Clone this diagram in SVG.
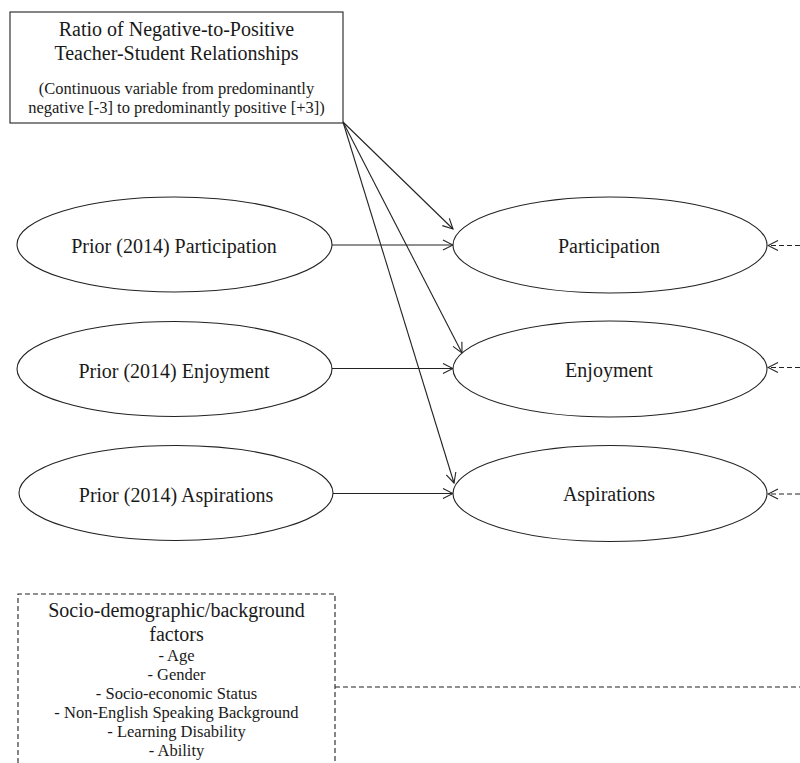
<svg xmlns="http://www.w3.org/2000/svg" width="800" height="763" viewBox="0 0 800 763">
<style>
  text { font-family: "Liberation Serif", "Times New Roman", serif; fill: #1a1a1a; text-anchor: middle; }
  .t20 { font-size: 20px; }
  .t16 { font-size: 16.5px; }
  .shape { fill: #fff; stroke: #222; stroke-width: 1.1; }
  .dbox { fill: none; stroke: #222; stroke-width: 1.1; stroke-dasharray: 5 3; }
  .edge { fill: none; stroke: #222; stroke-width: 1.1; marker-end: url(#arr); }
  .dedge { fill: none; stroke: #222; stroke-width: 1.1; stroke-dasharray: 5 3; }
</style>
<defs>
  <marker id="arr" viewBox="0 0 12 12" refX="11" refY="6" markerWidth="12" markerHeight="12" orient="auto" markerUnits="userSpaceOnUse">
    <path d="M1,1 L11,6 L1,11" fill="none" stroke="#222" stroke-width="1.1" stroke-dasharray="none"/>
  </marker>
</defs>
<rect width="800" height="763" fill="#fff"/>

<g id="connectors">
  <line class="edge" x1="343" y1="122" x2="453" y2="229"/>
  <line class="edge" x1="343" y1="122" x2="462" y2="353"/>
  <line class="edge" x1="343" y1="122" x2="454" y2="483"/>
  <line class="edge" x1="332" y1="245" x2="453" y2="245"/>
  <line class="edge" x1="332" y1="368.5" x2="453" y2="368.5"/>
  <line class="edge" x1="332" y1="493.5" x2="453" y2="493.5"/>
  <line class="dedge" x1="800" y1="245.5" x2="768" y2="245.5" marker-end="url(#arr)"/>
  <line class="dedge" x1="800" y1="367.5" x2="768" y2="367.5" marker-end="url(#arr)"/>
  <line class="dedge" x1="800" y1="494" x2="768" y2="494" marker-end="url(#arr)"/>
  <line class="dedge" x1="335" y1="687" x2="800" y2="687"/>
</g>

<g id="ratio">
  <rect class="shape" x="10" y="12" width="333" height="111"/>
  <text class="t20" x="176.5" y="36">Ratio of Negative-to-Positive</text>
  <text class="t20" x="176.5" y="60">Teacher-Student Relationships</text>
  <text class="t16" x="176.5" y="93.5">(Continuous variable from predominantly</text>
  <text class="t16" x="176.5" y="112.5">negative [-3] to predominantly positive [+3])</text>
</g>

<g id="prior-participation">
  <ellipse class="shape" cx="174.5" cy="244.5" rx="157.5" ry="47.5"/>
  <text class="t20" x="174" y="253">Prior (2014) Participation</text>
</g>
<g id="prior-enjoyment">
  <ellipse class="shape" cx="174.5" cy="369" rx="157.5" ry="47.5"/>
  <text class="t20" x="174" y="377.5">Prior (2014) Enjoyment</text>
</g>
<g id="prior-aspirations">
  <ellipse class="shape" cx="176" cy="493" rx="157" ry="47.5"/>
  <text class="t20" x="176" y="501.5">Prior (2014) Aspirations</text>
</g>

<g id="participation">
  <ellipse class="shape" cx="610" cy="245" rx="157" ry="48"/>
  <text class="t20" x="609" y="252.5">Participation</text>
</g>
<g id="enjoyment">
  <ellipse class="shape" cx="610" cy="369" rx="157" ry="48"/>
  <text class="t20" x="609" y="376.5">Enjoyment</text>
</g>
<g id="aspirations">
  <ellipse class="shape" cx="610" cy="493.5" rx="157" ry="48"/>
  <text class="t20" x="609" y="501">Aspirations</text>
</g>

<g id="socio">
  <path class="dbox" d="M18,763 L18,594 L335,594 L335,763"/>
  <text class="t20" x="176.5" y="617">Socio-demographic/background</text>
  <text class="t20" x="176.5" y="641">factors</text>
  <text class="t16" x="176.5" y="661">- Age</text>
  <text class="t16" x="176.5" y="680">- Gender</text>
  <text class="t16" x="176.5" y="699">- Socio-economic Status</text>
  <text class="t16" x="176.5" y="718">- Non-English Speaking Background</text>
  <text class="t16" x="176.5" y="737">- Learning Disability</text>
  <text class="t16" x="176.5" y="756">- Ability</text>
</g>
</svg>
